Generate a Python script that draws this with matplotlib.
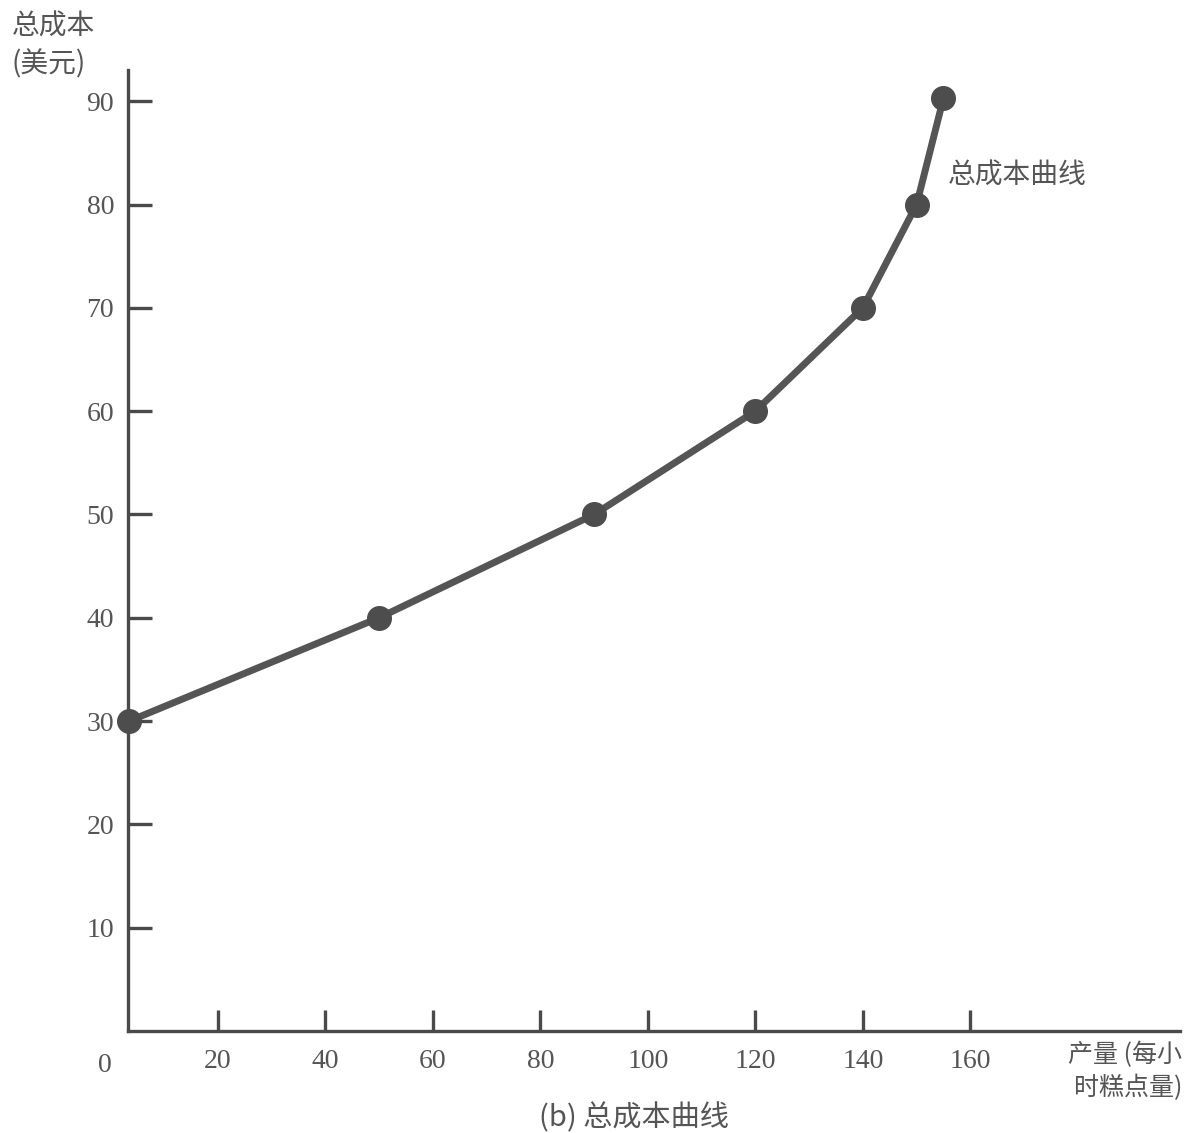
import matplotlib
matplotlib.use("Agg")
import matplotlib.pyplot as plt

output = [3.5, 50, 90, 120, 140, 150, 155]
total_cost = [30, 40, 50, 60, 70, 80, 90.3]
x_ticks = [20, 40, 60, 80, 100, 120, 140, 160]
y_ticks = [10, 20, 30, 40, 50, 60, 70, 80, 90]

CJK = ['Noto Sans CJK SC', 'DejaVu Sans']
NUM = ['Liberation Serif', 'DejaVu Serif']
ink = '#4a4a4a'
txt = '#555555'

fig = plt.figure(figsize=(12.02, 11.33), dpi=100)
ax = fig.add_axes([128/1202, 0.090, (1180-128)/1202, 0.848])

ax.plot(output, total_cost, color='#555555', lw=5, marker='o', ms=17,
        markerfacecolor='#4d4d4d', markeredgecolor='#4d4d4d', zorder=3,
        clip_on=False)

ax.set_xlim(3.3, 199)
ax.set_ylim(0, 93)
for s in ['top', 'right']:
    ax.spines[s].set_visible(False)
for s in ['left', 'bottom']:
    ax.spines[s].set_color(ink)
    ax.spines[s].set_linewidth(2.4)

ax.set_xticks(x_ticks)
ax.set_xticklabels([str(v) for v in x_ticks])
ax.set_yticks(y_ticks)
ax.set_yticklabels([str(v) for v in y_ticks])
ax.tick_params(axis='x', direction='in', length=15, width=2.4, color=ink,
               pad=13, labelsize=20, labelcolor=txt)
ax.tick_params(axis='y', direction='in', length=17, width=2.4, color=ink,
               pad=10, labelsize=20, labelcolor=txt)
for lab in ax.get_xticklabels() + ax.get_yticklabels():
    lab.set_family(NUM)

# origin label (tick 0 lies just left of the drawn y axis)
ax.annotate('0', xy=(-1, 0), xycoords=('data', 'axes fraction'),
            xytext=(0, -16), textcoords='offset points', ha='center', va='top',
            fontsize=20, color=txt, family=NUM, annotation_clip=False)

# axis titles
fig.text(12/1202, 1 - 12/1133, '总成本\n(美元)', ha='left', va='top',
         fontsize=20, color=txt, family=CJK, linespacing=1.3)
fig.text(1182/1202, 1 - 1042/1133, '产量 (每小\n时糕点量)', ha='right', va='top',
         fontsize=18, color=txt, family=CJK, linespacing=1.3)

# curve label
fig.text(948/1202, 1 - 176/1133, '总成本曲线', ha='left', va='center',
         fontsize=20, color=txt, family=CJK)

# caption
fig.text(634/1202, 1 - 1118/1133, '(b) 总成本曲线', ha='center', va='center',
         fontsize=21, color=txt, family=CJK)

fig.savefig('out.png', dpi=100, facecolor='white')
